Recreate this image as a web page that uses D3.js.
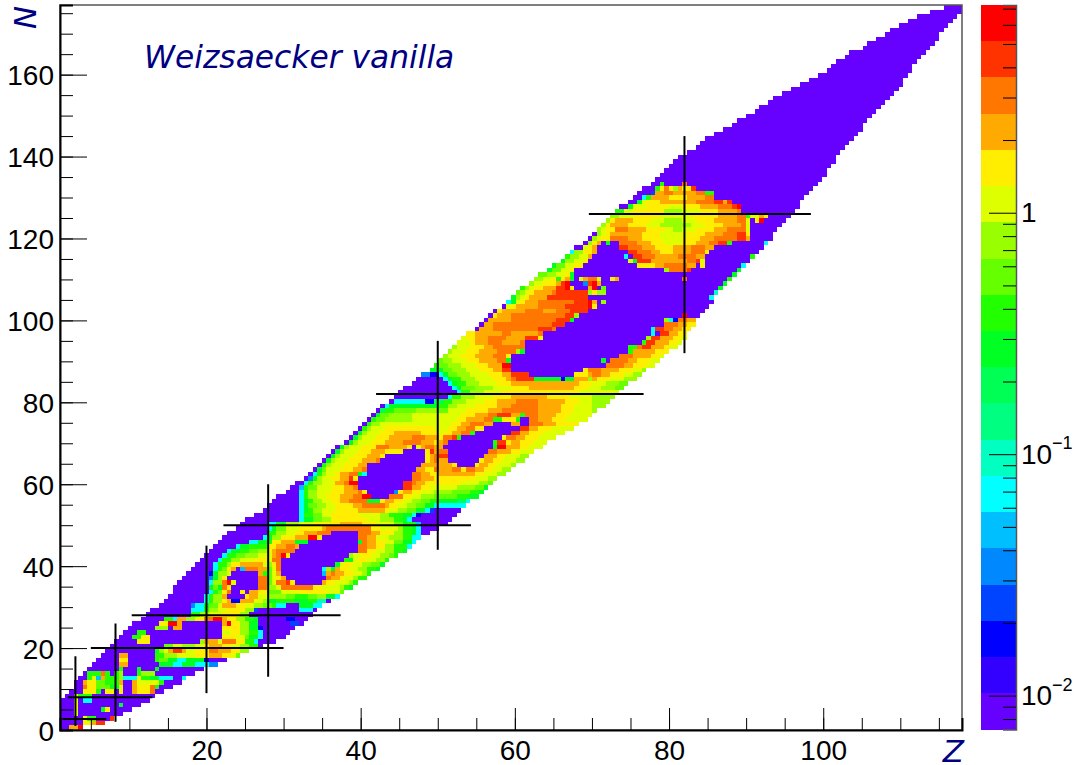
<!DOCTYPE html>
<html>
<head>
<meta charset="utf-8">
<script src="https://cdn.jsdelivr.net/npm/d3@7"></script>
<style>
body { margin: 0; background: #fff; }
text { font-family: "Liberation Sans", sans-serif; fill: #000; }
.axis text { font-size: 28px; }
</style>
</head>
<body>
<script>
var w = 1077;
var h = 765;

//Palette from the colour bar, lowest level first (letters a to t in the rows below)
var levelLetters = "abcdefghijklmnopqrst";
var levelColors = ["#6600ff","#3300ff","#0000ff","#0044ff","#0088ff","#00bfff","#00ffff","#00ffc0","#00ff80","#00ff55",
    "#00ff22","#22ff00","#66ff00","#99ff00","#ddff00","#ffee00","#ffaa00","#ff7700","#ff3300","#ff0000"];

//Histogram bins, one string per N bin from the bottom: start bin, level, next bin, level ... end bin
var binsZ = 200;
var binsN = 160;
var rowRuns = [
"0a2q4t5","0a5p7q8s10","0a5p6l8a11s12","0a3o4a14","0a3o4a9k10p11a16","0a3p4a13k14a18","0a3o4a5g7a20","1a3o4l7a21",
"2a5p8l9a10p12a13p14a16q17p20r21a23","3a5r6p8m11k13o14a16q17p20r21l22a25","3a5q6p8m10l13q14a16q17o22l23a27",
"4a6l7o8f9q10l13n14g17p18l20k22g25a27g28","5a6l9r10l11a12l13n14a17l18n21a30","6a13l14a17k18a21k22a32",
"7a13q15a22k25g27k30g33e35","8a13p15a21l22m24k26g28k32c33a37","9a13q15a21l23n26o30p33q36p38o39m40",
"10a21k22n23o24q25s27q28o30p33r35q38p40n42","11a23m25o27n30o32p33q36p38o40n42l44a45",
"12a17p20a31n32q35o36r39p41l43g44a48","13a16l18p20a36p39o41m42k44g45a50","14a17l19a36o38p40n42l44g45a51",
"15a21n24a25q27a36p40n42k44c45a52","16a22p24t26q27a36q37t38p40n42k44a51d53a54",
"18a23l25g26q28n30p32r34t36q37p39n41l43k44a50c52a55","19a29l31n33o36p40n42a56",
"20a29g32l33n35o37p41n43d44a53g56a57","22a29e30g32k33m35o36q39p41o43n45m47l48g50a53k56g58",
"23a32g33l34n36p37q38c40q43o45n46k48l52k55l57h59a60","24a32g33l34n36q37a41p42q44o46n50m52l55m57n59k61g62",
"25a33g34l35m36p37r38a40p41a42q44p46m49o53p59o62m63","25a33k34m35k36r37p38a44r46n48o49r56p58o62n63l64k65",
"26a33g34n36r37t38o39a44r46m47o48r50s51p52a58q59p61o64n65l66","27a33e34k35n36p37a44r46m47o48p49q50a59r60q62p63o65n66l68",
"28a33c34k35n37o38a44q45l46m47o48q49a58f59q60r61q63p65o67n68l69",
"29a34g35l36m37p38q39a40f41r44q46m47o48r49a58g59n60k61q62p64o66n68l70k71",
"30a34g35l37n38p40q45o46n47p48r49a61k62o63p65o67n69m71k72","31a35g36l38n40o43p46o47r49a63l64k65o66p68o70n72l73",
"32a36g37l39m41n44o47q48r49t50p51a64n65o67p69o71n73m74l75","33a37g38k40l42m44n46p47q48r52a66r68p70o72n74l76k77",
"34a39g40k42l46p48q50r52q53a66r68q70p72n74l77g78","35a42g44k46l47p49q52k55a66k67r68q70p72o74m76k78g79",
"36a45g46k47n49p52q55t57p58a66r68q70o73n76l78g80","37a46l48n50o52p54q57r60a66r69q71p74n76l78k79g80a82",
"39a46g47k48m50o53p58q59r69p71o75n76l78k79g80a84","40a46g48k50n53o56p62q67p70o74m76k77l78k79f80a86",
"41a53g54k56m58n60p68o71n74l76k77g78a87","43a53g54l56m58o60p66o71n73l76k78g79c80a88",
"45a53g54k55l56n58o61p66q72p73o75n77m79k81g82d83a89","46a53g54k55m57n59o61p65q67r72q73p75o77n79m81k83g90",
"47a53g54k55l56n58o60p62q64r68k71p72q74p76o78n80m82l84k88j90g91","48a53g54l55n57o59p62q65r67t69a73r76p78o80n83m88l91k93",
"50a53g54l55n57o60p63q66r67p68a74e75p76q78p80o83n87m91l93k94","51a53f54l55m57o60p63q65r66a76s78q80p82o88n92m94k95",
"52a54g55l56n58o61q63r64t66a76s78r79q81p89o93n95m96","54a55e56k57n58o60p62q64s65p66a78r80q83p92o95n97",
"55a56g57l58n59o61p62q64r66k67g68a78r80q82p84q92p94o97n99","56a57k58m59o62p65q67r68a79q81p83r84q87r89p90r92q94p96o98n100",
"57a58l59n60o63p66q68a80q87p88a92p93q95p97o100n101","58a59k60n61o64p67q70r71a81p82q83r84q86a93p94q96p98o101n103",
"59a60k61n62o65p68q71p72a81p82q83r84s86a94q97p99o102n104","60a61k62n63o66p69q72p76a81p82s83q84r86a95r97q100p102o105",
"61a62k63n64o67p70r73q77p78a79o80q81r83q85a96k97t99q102p104o107","63a64k65n66o69p72q76r80q83p84q85r86a96l97s99p100q102p105o108",
"64a65k66n67o70p73q78r81q84p85r87s88l89a98p99r101q103p106o110","65a66k67n68o71p74q80p84o85p87q89r91l92a100s102q104p107o112",
"66a67l68n69o72p83o86p88q90r92p94a102s104q106p109o114","67a68l69n71o87p89q91r94q96a100q102a104r107q110p115",
"68a69l70m72n78o88p90q94r96l98p101l102a104r106q109p112o117","69a70k71m73n78o89p92q95r97s100q102l103r106q110p113o118",
"70a71j72l74m79n84m86o90p95q98r106q111p114o118n119","71a72g73k84l86n88o92p97q100r106q111p114o118n121",
"73a74g81c83j85l87n90o94p97q101r106q112p115o118n122","74a86g87l89n92o96p100q108p113o118n123",
"75a88g89l91n94o98p115o124","76a87g88k89m92n96o100p104q114p117o120n123m125",
"78a86g87k88l90n93o97p100q115p118o121n124m126","79a85g86k87l89n92o96p99q100r101s105k111c112k114q117n118q119p122o125n128",
"80e82c84g85k86m88n91o95p98q100s104a114p117q118r120q122p125o127n129","82k85m87n90o93p96q98s100a116p117r120q124p127o129n130",
"83l84m86n89o92p95q98t100a121r125q127p130o132","84m85n87o90p93q97r99k100a120k121a122r126q128p131o133",
"85n86o89p92q96r99p100a124r127q131p133o134","86n87o90p93q97r101n102k103a126l127q132p135",
"87n88o91p94q96r103a126l128r129s131q134p135o137","88o91p92q95r98q102r103a129l130s132q135p137o138",
"89o90p92q95r99q103s106p107a130n131s133q136p138o139","90p92q98r100q106r107a131g132a133s135q137p139",
"92a93q96r106s109r110a131g132s134r136q138p140","93a94q96r109s112a134r137q139p141",
"94a95q100r110s113k114a134n135g136c137r139q141","95a96p97q100r112s114n115a138t139a142",
"96a97p98q103r107q110r113s117a143","98a99o100p101q106r112s117t118p119a144","99g100k101o102p103q106r114s117t118q119a120n121a145",
"100k101n102o103p104q108s117a144g145","101m102n103o104p105q109r110s117n118p119n121a145h146",
"102l103n104o105p107q110s112t113p114a117q118t119a120m121a146k147","104n105o107p110q111s112t113a116e117s118t119q120a147k148",
"105n107o109p110l111p112q113k114a115o116q117r119o120a122p123q124a138r139a148l149","106m108n110o112p113k114a149k150",
"108k109m111o113p114a134n135r139s140a150k151","109k110m112o114p116a128p132q134r139q141a142p143a151g152",
"111k112n114o116p117a126o127k128s131q139r141s142o143a153","112l113n115o117q118a125g126a127s129r132q137r141q143a153l154",
"113g114n116p118q119a126s128r131q133p136q140r143p144a155","114a116o117p118q119a124s126r129q132p136q140r143q145a156",
"116a117n118p119q120a121k122a124r128q131p134o138p141q144r146s148l149a156g157",
"117a118n119o120p122r126q129p133o138p142q145r150s152q153a158","118a119n120o121p122q125q129p133o139p143q147r150s152p153a158",
"119n120o121p123r126q130p134o136n138o141p145q148r152o153a159","120n121p122q126p130o133n140o143p147q151r152o153a160",
"121n122p123q127p131o134n138o141p145q150r152o153a154p155t156a161","122n124o127p133o140p146q150r152l153o155q156p157a162",
"123l125o127p134n138o142p146q150r151a163","124a126k127o130p135o138p142q146r149s150t151a164",
"126a128k129o130p133q141r145s147q148s149a164","127a129g130l131q135p139q143r145a165",
"128a131d132q134r136q141r143l145a166","129a132l133p134r135p136n137q138p140s141a167","131a133l134a138r139a168",
"132a169","133a170","134a170","135a171","136a172","137a172","139a173","141a174","142a175","143a176","145a177",
"147a178","149a178","150a179","152a180","154a181","155a182","157a183","158a184","160a185","162a186","164a187",
"166a187","168a188","170a189","171a189","172a190","174a191","175a192","178a193","179a194","181a195","183a195",
"184a196","186a197","188a198","190a199","193a200","196a200"
];

//Magic number lines, in Z and N units
var magicZ = [3, 8.2, 20, 28, 50, 82];
var magicZFromN = [1, 2, 9, 13, 44, 92];
var magicZToN = [18, 26, 45, 60, 95, 145];
var magicN = [2.7, 8, 20, 28, 50, 82, 126];
var magicNFromZ = [1.3, 2, 5, 10.3, 22.2, 42, 69.6];
var magicNToZ = [7, 13, 30, 37.4, 54.3, 76.7, 98.4];

//Tick labels
var zTicks = [20, 40, 60, 80, 100];
var zMinorTicks = d3.range(5, 118, 5);
var nTicks = [0, 20, 40, 60, 80, 100, 120, 140, 160];
var nMinorTicks = d3.range(0, 177, 5);
var barTicks = [0.01, 0.1, 1];
var barExponents = ["\u22122", "\u22121", ""];
var barMinorTicks = [0.008, 0.009, 0.02, 0.03, 0.04, 0.05, 0.06, 0.07, 0.08, 0.09,
    0.2, 0.3, 0.4, 0.5, 0.6, 0.7, 0.8, 0.9, 2, 3, 4, 5, 6, 7];

var svg = d3.select("body").append("svg")
    .attr("width", w)
    .attr("height", h)
    .style("display", "block");

var xScale = d3.scaleLinear().domain([1, 118]).range([60, 962]);
var yScale = d3.scaleLinear().domain([0, 177]).range([730, 5]);
var xBin = d3.scaleLinear().domain([0, binsZ]).range(xScale.range());
var yBin = d3.scaleLinear().domain([0, binsN]).range(yScale.range());
var barScale = d3.scaleLog().domain([0.00724, 7.25]).range([729.5, 5]);

//Unpack the rows into cell runs
var cells = [];
rowRuns.forEach(function(row, r) {
    var parts = row.match(/\d+|[a-t]/g);
    for (var i = 0; i + 2 < parts.length; i += 2) {
        cells.push({
            row: r,
            from: +parts[i],
            to: +parts[i + 2],
            level: levelLetters.indexOf(parts[i + 1])
        });
    }
});

svg.append("g")
    .attr("shape-rendering", "crispEdges")
    .selectAll("rect")
    .data(cells)
    .enter()
    .append("rect")
    .attr("x", function(d) { return xBin(d.from); })
    .attr("y", function(d) { return yBin(d.row + 1); })
    .attr("width", function(d) { return xBin(d.to) - xBin(d.from); })
    .attr("height", function(d) { return yBin(d.row) - yBin(d.row + 1); })
    .attr("fill", function(d) { return levelColors[d.level]; });

//Magic number lines
svg.append("g").selectAll("line")
    .data(magicZ)
    .enter()
    .append("line")
    .attr("x1", function(d) { return xScale(d); })
    .attr("x2", function(d) { return xScale(d); })
    .attr("y1", function(d, i) { return yScale(magicZFromN[i]); })
    .attr("y2", function(d, i) { return yScale(magicZToN[i]); })
    .attr("stroke", "#000")
    .attr("stroke-width", 2);

svg.append("g").selectAll("line")
    .data(magicN)
    .enter()
    .append("line")
    .attr("y1", function(d) { return yScale(d); })
    .attr("y2", function(d) { return yScale(d); })
    .attr("x1", function(d, i) { return xScale(magicNFromZ[i]); })
    .attr("x2", function(d, i) { return xScale(magicNToZ[i]); })
    .attr("stroke", "#000")
    .attr("stroke-width", 2);

//Frame
svg.append("rect")
    .attr("x", 60)
    .attr("y", 5)
    .attr("width", 902)
    .attr("height", 725)
    .attr("fill", "none")
    .attr("stroke", "#555")
    .attr("stroke-width", 1.5);

//Axes, ticks point into the plot
svg.append("g")
    .attr("class", "axis")
    .attr("transform", "translate(0,730)")
    .call(d3.axisBottom(xScale).tickValues(zMinorTicks).tickSize(-12).tickFormat(""))
    .call(function(g) { g.select(".domain").attr("stroke-width", 2); });

var xMajor = svg.append("g")
    .attr("class", "axis")
    .attr("transform", "translate(0,730)")
    .call(d3.axisBottom(xScale).tickValues(zTicks).tickSize(-22))
    .call(function(g) { g.select(".domain").remove(); });
xMajor.selectAll("text")
    .attr("y", 30)
    .attr("dy", null);

svg.append("g")
    .attr("class", "axis")
    .attr("transform", "translate(60,0)")
    .call(d3.axisLeft(yScale).tickValues(nMinorTicks).tickSize(-13).tickFormat(""))
    .call(function(g) { g.select(".domain").attr("stroke-width", 2); });

var yMajor = svg.append("g")
    .attr("class", "axis")
    .attr("transform", "translate(60,0)")
    .call(d3.axisLeft(yScale).tickValues(nTicks).tickSize(-27))
    .call(function(g) { g.select(".domain").remove(); });
yMajor.selectAll("text")
    .attr("x", -6)
    .attr("dy", "0.36em");

//Colour bar
var barEdges = d3.range(levelColors.length + 1).map(function(i) {
    return barScale.range()[0] + i * (barScale.range()[1] - barScale.range()[0]) / levelColors.length;
});
svg.append("g")
    .attr("shape-rendering", "crispEdges")
    .selectAll("rect")
    .data(levelColors)
    .enter()
    .append("rect")
    .attr("x", 981)
    .attr("y", function(d, i) { return barEdges[i + 1]; })
    .attr("width", 35)
    .attr("height", function(d, i) { return barEdges[i] - barEdges[i + 1]; })
    .attr("fill", function(d) { return d; });

svg.append("g")
    .attr("class", "axis")
    .attr("transform", "translate(1016,0)")
    .call(d3.axisRight(barScale).tickValues(barMinorTicks).tickSize(-13).tickFormat(""))
    .call(function(g) { g.select(".domain").attr("stroke", "#555").attr("stroke-width", 1.5); });

var barMajor = svg.append("g")
    .attr("class", "axis")
    .attr("transform", "translate(1016,0)")
    .call(d3.axisRight(barScale).tickValues(barTicks).tickSize(-27).tickFormat(function(d) { return d === 1 ? "1" : "10"; }))
    .call(function(g) { g.select(".domain").remove(); });
barMajor.selectAll("text")
    .attr("x", 5)
    .attr("dy", "0.32em");

svg.append("g").selectAll("text")
    .data(barTicks)
    .enter()
    .append("text")
    .attr("x", 1052)
    .attr("y", function(d) { return barScale(d) - 5; })
    .attr("font-size", 18)
    .text(function(d, i) { return barExponents[i]; });

//Titles
svg.append("text")
    .attr("x", 144)
    .attr("y", 68)
    .style("font-family", "'DejaVu Sans'")
    .style("font-style", "italic")
    .style("fill", "#000080")
    .attr("font-size", 31.3)
    .text("Weizsaecker vanilla");

svg.append("text")
    .attr("x", 964)
    .attr("y", 762)
    .attr("text-anchor", "end")
    .style("font-family", "'DejaVu Sans'")
    .style("font-style", "italic")
    .style("fill", "#000080")
    .attr("font-size", 31)
    .text("Z");

svg.append("text")
    .attr("transform", "translate(36,29) rotate(-90)")
    .style("font-family", "'DejaVu Sans'")
    .style("font-style", "italic")
    .style("fill", "#000080")
    .attr("font-size", 31)
    .text("N");
</script>
</body>
</html>
